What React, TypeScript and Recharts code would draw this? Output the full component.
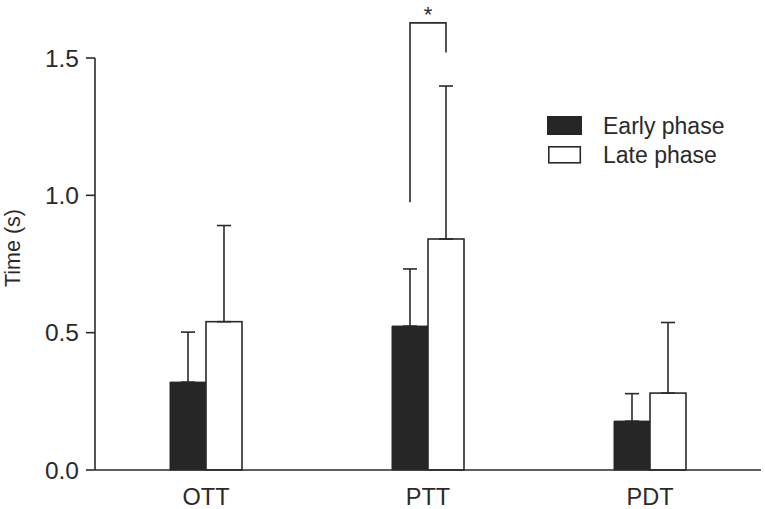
import React from "react";
import { BarChart, Bar, XAxis, YAxis, ErrorBar } from "recharts";

const categories = ["OTT", "PTT", "PDT"];
const earlyPhase = [0.32, 0.524, 0.178];
const earlyErr = [0.182, 0.208, 0.1];
const latePhase = [0.54, 0.841, 0.28];
const lateErr = [0.35, 0.557, 0.257];
// significance bracket between early and late bars
const sigLeftFrom = [null, 0.975, null];
const sigTop = [null, 1.628, null];
const sigRightFrom = [null, 1.52, null];
const sigLabel = ["", "*", ""];
const yTicks = [0, 0.5, 1.0, 1.5];

const data = categories.map((name, i) => ({
  name,
  early: earlyPhase[i],
  earlyE: [0, earlyErr[i]],
  late: latePhase[i],
  lateE: [0, lateErr[i]],
  sigLeft: sigLeftFrom[i],
  sigTop: sigTop[i],
  sigRight: sigRightFrom[i],
  sig: sigLabel[i],
}));

const INK = "#2a2a2a";
const FONT = "'Liberation Sans', Arial, sans-serif";

const LateShape = (props: any) => {
  const { x, y, width, height, payload } = props;
  const base = y + height;
  const unit = height / payload.late;
  const yOf = (v: number) => base - v * unit;
  return (
    <g>
      <rect x={x} y={y} width={width} height={height} fill="#fff" stroke={INK} strokeWidth={1.6} />
      {payload.sigTop != null && (
        <g stroke={INK} strokeWidth={1.6} fill="none">
          <polyline
            points={`${x - width / 2},${yOf(payload.sigLeft)} ${x - width / 2},${yOf(payload.sigTop)} ${x + width / 2},${yOf(payload.sigTop)} ${x + width / 2},${yOf(payload.sigRight)}`}
          />
          <text
            x={x}
            y={yOf(payload.sigTop) - 1}
            textAnchor="middle"
            fontSize={22}
            fontFamily={FONT}
            fill={INK}
            stroke="none"
          >
            {payload.sig}
          </text>
        </g>
      )}
    </g>
  );
};

const YLabel = (props: any) => {
  const { viewBox } = props;
  const cy = viewBox.y + viewBox.height / 2 - 16;
  const cx = 13;
  return (
    <text
      x={cx}
      y={cy}
      transform={`rotate(-90 ${cx} ${cy})`}
      textAnchor="middle"
      dominantBaseline="central"
      fontSize={21.5}
      fontFamily={FONT}
      fill={INK}
    >
      Time (s)
    </text>
  );
};

export default function App() {
  return (
    <div style={{ position: "absolute", left: 0, top: 0, width: 765, height: 509, background: "#fff" }}>
      <BarChart
        width={765}
        height={509}
        data={data}
        margin={{ top: 58, right: 4, bottom: 9, left: 0 }}
        barGap={0}
        barSize={36}
      >
        <XAxis
          dataKey="name"
          height={30}
          axisLine={{ stroke: INK, strokeWidth: 1.6 }}
          tickLine={false}
          tickSize={0}
          tickMargin={18}
          tick={{ fontSize: 23.5, fontFamily: FONT, fill: INK }}
        />
        <YAxis
          width={95}
          domain={[0, 1.5]}
          ticks={yTicks}
          interval={0}
          tickFormatter={(v: number) => v.toFixed(1)}
          axisLine={{ stroke: INK, strokeWidth: 1.6 }}
          tickLine={{ stroke: INK, strokeWidth: 1.6 }}
          tickSize={9}
          tickMargin={7}
          tick={{ fontSize: 24.5, fontFamily: FONT, fill: INK }}
          label={<YLabel />}
        />
        <Bar dataKey="early" fill="#262626" stroke="#262626" strokeWidth={1} isAnimationActive={false}>
          <ErrorBar dataKey="earlyE" width={7} stroke={INK} strokeWidth={1.6} direction="y" />
        </Bar>
        <Bar dataKey="late" shape={<LateShape />} isAnimationActive={false}>
          <ErrorBar dataKey="lateE" width={7} stroke={INK} strokeWidth={1.6} direction="y" />
        </Bar>
      </BarChart>
      <svg width={215} height={60} style={{ position: "absolute", left: 545, top: 115, overflow: "visible" }}>
        <rect x={2} y={1} width={35} height={19} fill="#262626" />
        <text x={58} y={19} fontSize={23} fontFamily={FONT} fill={INK}>
          Early phase
        </text>
        <rect x={3.8} y={31.8} width={31.5} height={16} fill="#fff" stroke={INK} strokeWidth={1.6} />
        <text x={58} y={48} fontSize={23} fontFamily={FONT} fill={INK}>
          Late phase
        </text>
      </svg>
    </div>
  );
}
